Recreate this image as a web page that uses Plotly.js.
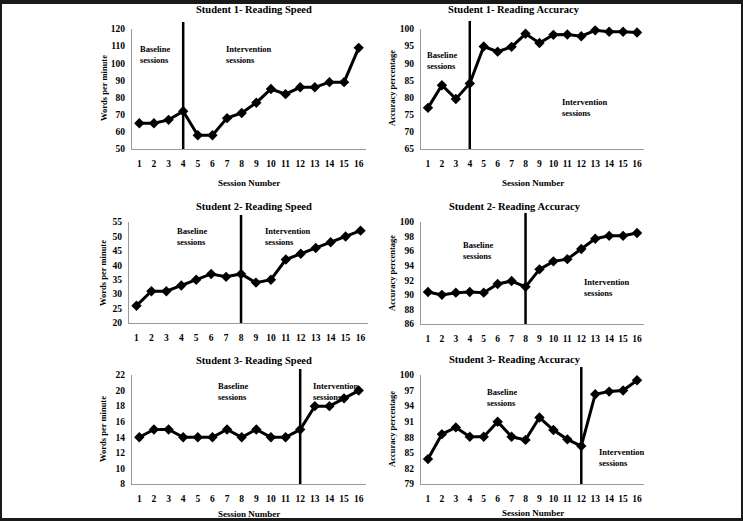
<!DOCTYPE html>
<html>
<head>
<meta charset="utf-8">
<script src="https://cdn.plot.ly/plotly-3.0.1.min.js"></script>
<style>
html,body{margin:0;padding:0;background:#fff;}
#wrap{position:relative;width:743px;height:521px;overflow:hidden;}
#chart{width:743px;height:521px;}
#frame{position:absolute;left:0;top:0;width:743px;height:521px;box-sizing:border-box;border-style:solid;border-color:#1a1a1a;border-width:4px 2px 3px 2px;pointer-events:none;}
</style>
</head>
<body>
<div id="wrap"><div id="chart"></div><div id="frame"></div></div>
<script>
// ---- data ----
const sessions = [1,2,3,4,5,6,7,8,9,10,11,12,13,14,15,16];
const s1Speed    = [65,65,67,72,58,58,68,71,77,85,82,86,86,89,89,109];
const s1Accuracy = [77.0,83.6,79.6,84.1,94.9,93.4,94.8,98.6,95.9,98.3,98.4,97.9,99.6,99.2,99.2,99.0];
const s2Speed    = [26,31,31,33,35,37,36,37,34,35,42,44,46,48,50,52];
const s2Accuracy = [90.4,90.0,90.3,90.4,90.3,91.5,91.9,91.1,93.5,94.6,94.9,96.3,97.7,98.1,98.1,98.5];
const s3Speed    = [14,15,15,14,14,14,15,14,15,14,14,15,18,18,19,20];
const s3Accuracy = [83.8,88.6,89.9,88.1,88.1,91.0,88.1,87.5,91.8,89.4,87.6,86.3,96.3,96.8,97.0,99.0];
const phaseChange = [4,4,8,8,12,12];
const panelTitles = ["Student 1- Reading Speed","Student 1- Reading Accuracy","Student 2- Reading Speed","Student 2- Reading Accuracy","Student 3- Reading Speed","Student 3- Reading Accuracy"];
const yTitles = ["Words per minute","Accuracy percentage","Words per minute","Accuracy percentage","Words per minute","Accuracy percentage"];
const xTitle = "Session Number";
const baselineLabel = "Baseline<br>sessions";
const interventionLabel = "Intervention<br>sessions";

const series = [s1Speed,s1Accuracy,s2Speed,s2Accuracy,s3Speed,s3Accuracy];

// ---- layout (pixel geometry) ----
const W = 743, H = 521;
const px = v => v / W;
const py = v => 1 - v / H;
const FONT = "Liberation Serif, Times New Roman, serif";

const panels = [
  {x0:132,x1:366,y0:149,y1:29, yr:[50,120], dt:10, vtop:1.058, titleX:254,titleY:10, ytX:104, ytY:88, xtY:183, base:[138,42], inter:[224,42]},
  {x0:421,x1:644,y0:149,y1:29, yr:[65,100], dt:5,  vtop:1.067, titleX:514,titleY:10, ytX:392, ytY:88, xtY:183, base:[425,48], inter:[560,95]},
  {x0:129,x1:368,y0:323,y1:222,yr:[20,55],  dt:5,  vtop:1.069, titleX:254,titleY:207,ytX:103, ytY:273, xtY:null, base:[175,224], inter:[263,224]},
  {x0:421,x1:644,y0:324,y1:222,yr:[86,100], dt:2,  vtop:1.089, titleX:515,titleY:206,ytX:392, ytY:273, xtY:null, base:[461,238], inter:[582,275]},
  {x0:132,x1:366,y0:484,y1:375,yr:[8,22],   dt:2,  vtop:1.055, titleX:254,titleY:360,ytX:103, ytY:429, xtY:514, base:[216,379], inter:[311,379]},
  {x0:421,x1:644,y0:484,y1:375,yr:[79,100], dt:3,  vtop:1.073, titleX:515,titleY:359,ytX:392, ytY:429, xtY:513, base:[485,385], inter:[597,445]}
];

const data = [];
const layout = {
  width: W, height: H,
  margin: {l:0,r:0,t:0,b:0},
  paper_bgcolor: "#fff", plot_bgcolor: "rgba(0,0,0,0)",
  showlegend: false,
  font: {family: FONT, color: "#000"},
  shapes: [], annotations: []
};

panels.forEach((p, i) => {
  const n = i + 1;
  const xa = n === 1 ? "x" : "x" + n;
  const ya = n === 1 ? "y" : "y" + n;
  data.push({
    type: "scatter", mode: "lines+markers",
    x: sessions, y: series[i], xaxis: xa, yaxis: ya,
    line: {color: "#000", width: 3},
    marker: {symbol: "diamond", size: 8, color: "#000"},
    cliponaxis: false, hoverinfo: "skip"
  });
  layout["xaxis" + (n === 1 ? "" : n)] = {
    domain: [px(p.x0), px(p.x1)], anchor: ya,
    range: [0.5, 16.5], tickvals: sessions, ticktext: sessions.map(String),
    showline: true, linecolor: "#9a9a9a", linewidth: 1,
    showgrid: false, zeroline: false, ticks: "",
    ticklabelstandoff: 6,
    tickfont: {family: FONT, size: 9.5, color: "#000", weight: "bold"},
    fixedrange: true
  };
  layout["yaxis" + (n === 1 ? "" : n)] = {
    domain: [py(p.y0), py(p.y1)], anchor: xa,
    range: p.yr, dtick: p.dt, tick0: p.yr[0],
    showline: true, linecolor: "#9a9a9a", linewidth: 1,
    showgrid: false, zeroline: false, ticks: "",
    ticklabelstandoff: 4,
    tickfont: {family: FONT, size: 9.5, color: "#000", weight: "bold"},
    fixedrange: true
  };
  layout.shapes.push({
    type: "line", xref: xa, yref: ya + " domain",
    x0: phaseChange[i], x1: phaseChange[i], y0: 0, y1: p.vtop,
    line: {color: "#000", width: 2.5}
  });
  layout.annotations.push({
    text: panelTitles[i], xref: "paper", yref: "paper",
    x: px(p.titleX), y: py(p.titleY), xanchor: "center", yanchor: "middle",
    showarrow: false, font: {family: FONT, size: 10.5, color: "#000", weight: "bold"}
  });
  layout.annotations.push({
    text: yTitles[i], xref: "paper", yref: "paper", textangle: -90,
    x: px(p.ytX), y: py(p.ytY), xanchor: "center", yanchor: "middle",
    showarrow: false, font: {family: FONT, size: 8.5, color: "#000", weight: "bold"}
  });
  if (p.xtY !== null) {
    layout.annotations.push({
      text: xTitle, xref: "paper", yref: "paper",
      x: px((p.x0 + p.x1) / 2), y: py(p.xtY), xanchor: "center", yanchor: "middle",
      showarrow: false, font: {family: FONT, size: 9, color: "#000", weight: "bold"}
    });
  }
  layout.annotations.push({
    text: baselineLabel, xref: "paper", yref: "paper", align: "left",
    x: px(p.base[0]), y: py(p.base[1]), xanchor: "left", yanchor: "top",
    showarrow: false, font: {family: FONT, size: 8.5, color: "#000", weight: "bold"}
  });
  layout.annotations.push({
    text: interventionLabel, xref: "paper", yref: "paper", align: "left",
    x: px(p.inter[0]), y: py(p.inter[1]), xanchor: "left", yanchor: "top",
    showarrow: false, font: {family: FONT, size: 8.5, color: "#000", weight: "bold"}
  });
});

Plotly.newPlot("chart", data, layout, {displayModeBar: false, staticPlot: true});
</script>
</body>
</html>
